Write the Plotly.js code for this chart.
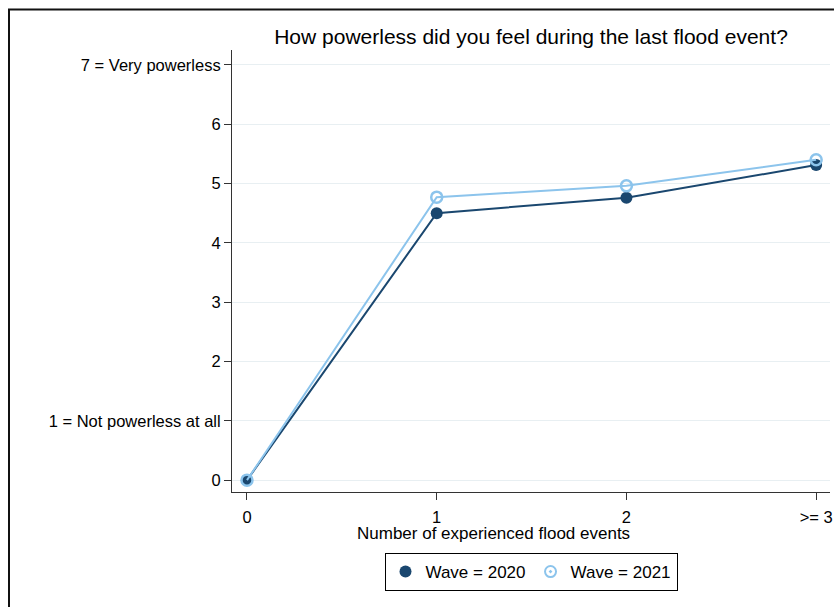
<!DOCTYPE html>
<html>
<head>
<meta charset="utf-8">
<script src="https://cdn.plot.ly/plotly-3.0.1.min.js"></script>
<style>html,body{margin:0;padding:0;background:#fff;}#chart{width:834px;height:607px;}</style>
</head>
<body>
<div id="chart"></div>
<script>
var xCategories = ['0', '1', '2', '>= 3'];
var xValues = [0, 1, 2, 3];
var wave2020 = [0, 4.50, 4.76, 5.31];
var wave2021 = [0, 4.77, 4.96, 5.40];
var yTickVals = [0, 1, 2, 3, 4, 5, 6, 7];
var yTickText = ['0', '1 = Not powerless at all', '2', '3', '4', '5', '6', '7 = Very powerless'];

var navy = '#1a476f';
var light = '#8cc4ec';

var traces = [
  {x: xValues, y: wave2020, mode: 'lines+markers', showlegend: false,
   line: {color: navy, width: 2}, marker: {color: navy, size: 12, symbol: 'circle'}},
  {x: xValues, y: wave2021, mode: 'lines+markers', showlegend: false,
   line: {color: light, width: 2}, marker: {color: light, size: 11, symbol: 'circle-open', line: {width: 2.5, color: light}}},
  {x: [null], y: [null], mode: 'markers', name: 'Wave = 2020',
   marker: {color: navy, size: 12, symbol: 'circle'}},
  {x: [null], y: [null], mode: 'markers', name: 'Wave = 2021',
   marker: {color: light, size: 11, symbol: 'circle-open-dot', line: {width: 2, color: light}}}
];

var layout = {
  width: 834, height: 607,
  margin: {l: 232, r: 4, t: 50, b: 115},
  paper_bgcolor: '#fff', plot_bgcolor: '#fff',
  font: {family: 'Liberation Sans, Arial, sans-serif', size: 16.5, color: '#000'},
  title: {text: 'How powerless did you feel during the last flood event?',
          font: {size: 21, color: '#000'}, x: 0.5, xanchor: 'center', xref: 'paper',
          y: 1 - 37/607, yanchor: 'middle'},
  xaxis: {range: [-0.079, 3.073], tickvals: xValues, ticktext: xCategories,
          showgrid: false, zeroline: false, showline: true, linecolor: '#333', linewidth: 1,
          ticks: 'outside', ticklen: 7, tickcolor: '#333', tickfont: {size: 16.5},
          ticklabelstandoff: 3},
  yaxis: {range: [-0.2, 7.25], tickvals: yTickVals, ticktext: yTickText,
          showgrid: true, gridcolor: '#e8eff2', gridwidth: 1, zeroline: false,
          showline: true, linecolor: '#333', linewidth: 1,
          ticks: 'outside', ticklen: 7, tickcolor: '#333', tickfont: {size: 16.5}},
  legend: {orientation: 'h', x: 0.5, xanchor: 'center', y: (492 - 572) / 442, yanchor: 'middle',
           bordercolor: '#000', borderwidth: 1, font: {size: 17}, itemwidth: 30,
           traceorder: 'normal'},
  annotations: [{text: 'Number of experienced flood events', xref: 'paper', yref: 'paper',
                 x: (493 - 232) / 598, y: (492 - 533) / 442, xanchor: 'center', yanchor: 'middle',
                 showarrow: false, font: {size: 17, color: '#000'}}],
  shapes: [{type: 'rect', xref: 'paper', yref: 'paper',
            x0: (9 - 232) / 598, x1: 1.2, y0: -0.5, y1: (492 - 9.5) / 442,
            line: {color: '#111', width: 2}, fillcolor: 'rgba(0,0,0,0)', layer: 'below'}]
};

Plotly.newPlot('chart', traces, layout, {displayModeBar: false, staticPlot: true});
</script>
</body>
</html>
